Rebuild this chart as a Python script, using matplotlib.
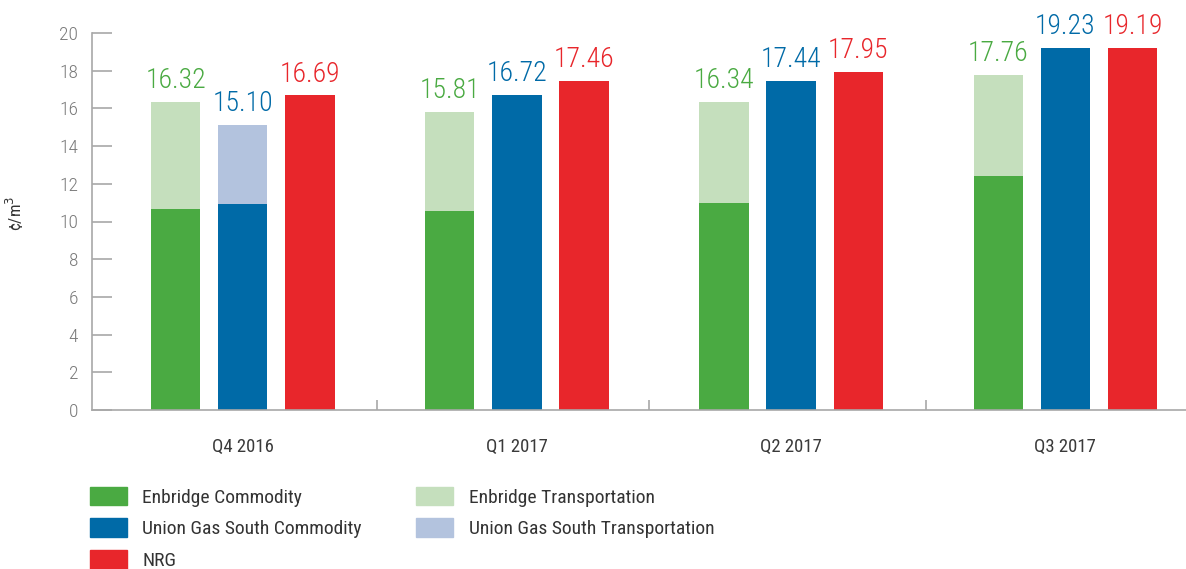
import matplotlib
matplotlib.use('Agg')
import matplotlib.pyplot as plt
from matplotlib import font_manager as fm
from matplotlib.patches import Patch
import numpy as np

# --- data ---
quarters = ['Q4 2016', 'Q1 2017', 'Q2 2017', 'Q3 2017']
enb_commodity = [10.65, 10.56, 10.98, 12.41]
enb_total = [16.32, 15.81, 16.34, 17.76]
ugs_commodity = [10.93, 16.72, 17.44, 19.23]
ugs_total = [15.10, 16.72, 17.44, 19.23]
nrg_total = [16.69, 17.46, 17.95, 19.19]

enb_transport = [t - c for t, c in zip(enb_total, enb_commodity)]
ugs_transport = [t - c for t, c in zip(ugs_total, ugs_commodity)]

# --- condensed font if one is around ---
fonts = fm.fontManager.ttflist
names = {f.name for f in fonts}
stretch = 'normal'
family = 'DejaVu Sans'
for cand in ['Roboto Condensed', 'Liberation Sans Narrow', 'Open Sans Condensed']:
    if cand in names:
        family = cand
        break
else:
    if any(f.name == 'DejaVu Sans' and f.stretch == 'condensed' for f in fonts):
        stretch = 'condensed'
plt.rcParams['font.family'] = [family, 'DejaVu Sans']
plt.rcParams['font.stretch'] = stretch
light = 'light'

colors = {
    'enb': '#4aaa42', 'enb_t': '#c5dfbd',
    'ugs': '#006aa7', 'ugs_t': '#b3c3de',
    'nrg': '#e8262b',
}
axis_gray = '#a8a8a8'

fig = plt.figure(figsize=(11.86, 5.69), dpi=100)
ax = fig.add_axes([92 / 1186, 1 - 410 / 569, 1 - 92 / 1186, (410 - 33) / 569])

x = np.arange(len(quarters))
w = 0.18
off = 0.245

ax.bar(x - off, enb_commodity, w, color=colors['enb'])
ax.bar(x - off, enb_transport, w, bottom=enb_commodity, color=colors['enb_t'])
ax.bar(x, ugs_commodity, w, color=colors['ugs'])
ax.bar(x, ugs_transport, w, bottom=ugs_commodity, color=colors['ugs_t'])
ax.bar(x + off, nrg_total, w, color=colors['nrg'])

for xs, vals, c in [(x - off, enb_total, colors['enb']),
                    (x, ugs_total, colors['ugs']),
                    (x + off, nrg_total, colors['nrg'])]:
    for xi, v in zip(xs, vals):
        ax.annotate(f'{v:.2f}', (xi, v), textcoords='offset points',
                    xytext=(0, 10), ha='center', va='baseline',
                    fontsize=20, color=c, fontweight=light)

ax.set_ylim(0, 20)
ax.set_xlim(-0.55, 3.44)
ax.set_yticks(range(0, 21, 2))
ax.tick_params(axis='y', direction='in', length=14.5, width=1.2,
               color=axis_gray, labelcolor='#7a7a7a', labelsize=14, pad=10)
for t in ax.get_yticklabels():
    t.set_fontweight(light)

ax.set_xticks([0.49, 1.48, 2.49])
ax.set_xticklabels([])
ax.tick_params(axis='x', which='major', direction='in', length=7,
               width=1.2, color=axis_gray)
ax.set_xticks(x, quarters, minor=True)
ax.tick_params(axis='x', which='minor', length=0, labelsize=13.5,
               labelcolor='#3a3a3a', pad=20)

for s in ['top', 'right']:
    ax.spines[s].set_visible(False)
for s in ['left', 'bottom']:
    ax.spines[s].set_color(axis_gray)
    ax.spines[s].set_linewidth(1.2)

fig.text(15 / 1186, 1 - 213 / 569, '¢/m$^3$', rotation=90, ha='center',
         va='center', fontsize=12, color='#333333')

handles = [
    Patch(color=colors['enb'], label='Enbridge Commodity'),
    Patch(color=colors['ugs'], label='Union Gas South Commodity'),
    Patch(color=colors['nrg'], label='NRG'),
    Patch(color=colors['enb_t'], label='Enbridge Transportation'),
    Patch(color=colors['ugs_t'], label='Union Gas South Transportation'),
]
leg = fig.legend(handles=handles, ncol=2, loc='upper left',
                 bbox_to_anchor=(82 / 1186, 1 - 479 / 569), frameon=False,
                 fontsize=14, handlelength=1.9, handleheight=1.1,
                 handletextpad=0.8, labelspacing=0.6, columnspacing=2.8,
                 borderaxespad=0)
for t in leg.get_texts():
    t.set_color('#333333')

fig.savefig('out.png', dpi=100)
